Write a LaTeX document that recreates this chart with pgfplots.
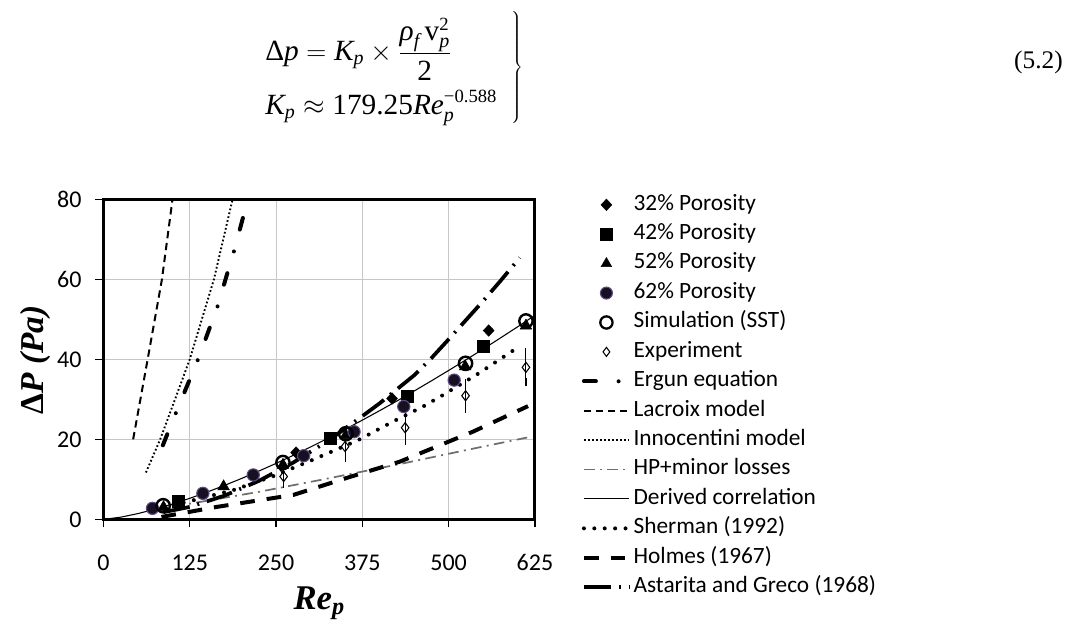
\documentclass[border=0pt]{standalone}
\usepackage{fontspec}
\setmainfont{Carlito}
\newfontfamily\tnr{Liberation Serif}
\usepackage{pgfplots}
\pgfplotsset{compat=1.18}
\newcommand\EqI[1]{\mbox{\tnr\itshape\fontsize{22}{26}\selectfont #1}}
\newcommand\EqR[1]{\mbox{\tnr\fontsize{22}{26}\selectfont #1}}
\newcommand\EqS[1]{\mbox{\tnr\itshape\fontsize{15}{17}\selectfont #1}}
\newcommand\EqSR[1]{\mbox{\tnr\fontsize{14}{16}\selectfont #1}}
\definecolor{hpgray}{RGB}{110,110,110}
\definecolor{p62fill}{RGB}{22,16,34}
\definecolor{p62edge}{RGB}{95,75,130}
\begin{document}
\begin{tikzpicture}
\useasboundingbox (0pt,0pt) rectangle (802.5pt,465pt);
% equation
\node[anchor=base west,inner sep=0pt] at (198.75pt,419.5pt) {\fontsize{22}{26}\selectfont
 $\EqR{Δ}\EqI{p} = \EqI{K}_{\EqS{p}} \times \displaystyle\frac{\EqI{ρ}_{\EqS{f}}\,\EqR{v}_{\EqS{p}}^{\EqSR{2}}\rule[-4pt]{0pt}{0pt}}{\rule{0pt}{19pt}\EqR{2}}$};
\node[anchor=base west,inner sep=0pt] at (198.75pt,379pt) {\fontsize{22}{26}\selectfont
 $\EqI{K}_{\EqS{p}} \approx \EqR{179.25}\EqI{Re}_{\EqS{p}}^{\EqSR{−0.588}}$};
\node[anchor=west,inner sep=0pt] at (382pt,414pt) {\fontsize{20}{24}\selectfont $\left.\vcenter{\hbox{\rule{0pt}{84pt}}}\right\}$};
\node[anchor=east,inner sep=0pt] at (797.25pt,418.5pt) {\tnr\fontsize{19}{22}\selectfont (5.2)};
\begin{axis}[
  at={(77.6pt,75.5pt)}, anchor=south west,
  scale only axis, width=323.6pt, height=240pt,
  xmin=0, xmax=625, ymin=0, ymax=80,
  xtick={0,125,250,375,500,625}, ytick={0,20,40,60,80},
  grid=major, major grid style={line width=0.6pt, color=black!22},
  axis line style={line width=2.2pt},
  tick align=outside, xtick pos=left, ytick pos=left,
  major tick length=6pt, tick style={black, line width=1pt},
  tick label style={font=\fontsize{18}{21}\selectfont},
  /pgf/number format/assume math mode=true,
  xticklabel style={yshift=-17pt},
  yticklabel style={xshift=-7pt},
  xlabel={\tnr\bfseries\itshape\fontsize{26}{30}\selectfont Re\textsubscript{p}},
  ylabel={\tnr\bfseries\fontsize{25}{29}\selectfont Δ\textit{P (Pa)}},
  every axis x label/.style={at={(axis description cs:0.5,-0.282)}, anchor=base},
  every axis y label/.style={at={(axis description cs:-0.157,0.498)}, anchor=center, rotate=90},
  legend image code/.code={\path[draw=none,fill=none] (0pt,-4pt) rectangle (33.75pt,4pt);
     \draw[mark repeat=2,mark phase=2,#1] plot coordinates {(0pt,0pt) (16.875pt,0pt) (33.75pt,0pt)};},
  legend cell align=left,
  legend style={at={(1.1089,1.0162)}, anchor=north west, draw=none, fill=none,
     inner sep=0pt, outer sep=0pt, row sep=6.06pt, column sep=2pt,
     nodes={inner sep=0pt, text height=12pt, text depth=4pt, font=\fontsize{17.5}{20}\selectfont}},
]
% ---- legend entries
\addlegendimage{only marks, mark=diamond*, mark size=4.3pt, mark options={xscale=1.25}, black}
\addlegendentry{32\% Porosity}
\addlegendimage{only marks, mark=square*, mark size=4.3pt, black}
\addlegendentry{42\% Porosity}
\addlegendimage{only marks, mark=triangle*, mark size=4.6pt, black}
\addlegendentry{52\% Porosity}
\addlegendimage{only marks, mark=*, mark size=4.5pt, mark options={fill=p62fill, draw=p62edge, line width=0.8pt}}
\addlegendentry{62\% Porosity}
\addlegendimage{only marks, mark=o, mark size=4.6pt, mark options={line width=1.7pt}, black}
\addlegendentry{Simulation (SST)}
\addlegendimage{only marks, mark=diamond, mark size=3.4pt, mark options={fill=white, line width=0.8pt}, black}
\addlegendentry{Experiment}
\addlegendimage{black, line width=3pt, line cap=round, dash pattern=on 9pt off 17pt on 0pt off 17pt}
\addlegendentry{Ergun equation}
\addlegendimage{black, line width=1.5pt, dash pattern=on 5.5pt off 3.5pt}
\addlegendentry{Lacroix model}
\addlegendimage{black, line width=1.4pt, dash pattern=on 1.3pt off 1.7pt}
\addlegendentry{Innocentini model}
\addlegendimage{hpgray, line width=1.3pt, dash pattern=on 8pt off 4pt on 1.5pt off 4pt}
\addlegendentry{HP+minor losses}
\addlegendimage{black, line width=0.8pt}
\addlegendentry{Derived correlation}
\addlegendimage{black, line width=3pt, line cap=round, dash pattern=on 0pt off 7.8pt}
\addlegendentry{Sherman (1992)}
\addlegendimage{black, line width=3pt, dash pattern=on 11pt off 9pt}
\addlegendentry{Holmes (1967)}
\addlegendimage{black, line width=2.8pt, dash pattern=on 20pt off 6pt on 1.5pt off 6pt}
\addlegendentry{Astarita and Greco (1968)}
% ---- markers
\addplot[forget plot, only marks, mark=diamond*, mark size=4.3pt, mark options={xscale=1.25}, black]
 coordinates {(279,16.7) (418,30.2) (558,47.2)};
\addplot[forget plot, only marks, mark=square*, mark size=4.5pt, black]
 coordinates {(108,4.6) (329,20.2) (440,30.8) (550,43.2)};
\addplot[forget plot, only marks, mark=triangle*, mark size=5pt, black]
 coordinates {(87,3.0) (174,8.2) (260,13.6) (351,21.0) (524,38.2) (612,48.4)};
\addplot[forget plot, only marks, mark=*, mark size=4.6pt, mark options={fill=p62fill, draw=p62edge, line width=0.8pt}]
 coordinates {(71,2.75) (144,6.5) (217,11.1) (290,15.9) (363,21.9) (435,28.2) (508,34.8)};
\addplot[forget plot, only marks, mark=o, mark size=5pt, mark options={line width=1.8pt}, black]
 coordinates {(86.5,3.4) (260,14.2) (351,21.4) (524.5,39) (612,49.6)};
\addplot[forget plot, only marks, mark=diamond, mark size=3.8pt, mark options={fill=white, line width=0.8pt}, black,
  error bars/.cd, y dir=both, y explicit, error bar style={line width=0.8pt, black},
  error mark options={mark size=3.2pt, line width=0.8pt, black}]
 table[x=x, y=y, y error=e] {
 x y e
 261 10.7 1.8
 350 18.2 2.8
 437 22.9 3.2
 524.5 30.9 3.2
 612 38.0 3.7
 };
% ---- lines
\addplot[forget plot, black, line width=3pt, line cap=round, dash pattern=on 9pt off 17pt on 0pt off 17pt]
 coordinates {(86,18.5) (107,27.5) (138,40.4) (166,53.6) (178,60.7) (189,67) (203,76)};
\addplot[forget plot, black, line width=1.5pt, dash pattern=on 5.5pt off 3.5pt]
 coordinates {(43,20) (64,40) (84.7,60) (100,80)};
\addplot[forget plot, black, line width=1.4pt, dash pattern=on 1.3pt off 1.7pt]
 coordinates {(61.5,11.7) (81.7,19.8) (103,29.7) (125,40) (160,60) (187,80)};
\addplot[forget plot, hpgray, line width=1.3pt, dash pattern=on 8pt off 4pt on 1.5pt off 4pt]
 coordinates {(101,3.2) (226,6.9) (313,9.8) (429,13.8) (525,17.3) (615,20.5)};
\addplot[forget plot, black, line width=0.8pt]
 coordinates {(0,0) (25,0.54) (50,1.44) (75,2.55) (100,3.84) (125,5.25) (150,6.80) (175,8.46)
  (200,10.21) (225,12.06) (250,13.98) (275,16.00) (300,18.09) (325,20.26) (350,22.49) (375,24.80)
  (400,27.16) (425,29.58) (450,32.07) (475,34.62) (500,37.22) (525,39.87) (550,42.57) (575,45.34)
  (600,48.14) (625,51.0)};
\addplot[forget plot, black, line width=3pt, line cap=round, dash pattern=on 0pt off 7.8pt]
 coordinates {(87,2.9) (131,4.8) (188,7.3) (246,10.8) (302,14.8) (369,19.8) (420,24.5) (463,28.2)
  (489,30.8) (540,36.1) (603,43.3)};
\addplot[forget plot, black, line width=3pt, dash pattern=on 11pt off 9pt]
 coordinates {(84,0.6) (164,3.1) (275,6.1) (357,10.6) (429,14.4) (535,21.9) (615,28.3)};
\addplot[forget plot, black, line width=2.8pt, dash pattern=on 20pt off 6pt on 1.5pt off 6pt]
 coordinates {(87,1.8) (125,3.1) (175,5.9) (225,9.6) (275,14.2) (325,19.6) (375,25.8) (400,29.0)
  (425,32.5) (450,36.0) (475,40.3) (500,45.0) (525,49.8) (550,54.6) (575,59.6) (603,65.4)};
\end{axis}
\end{tikzpicture}
\end{document}
